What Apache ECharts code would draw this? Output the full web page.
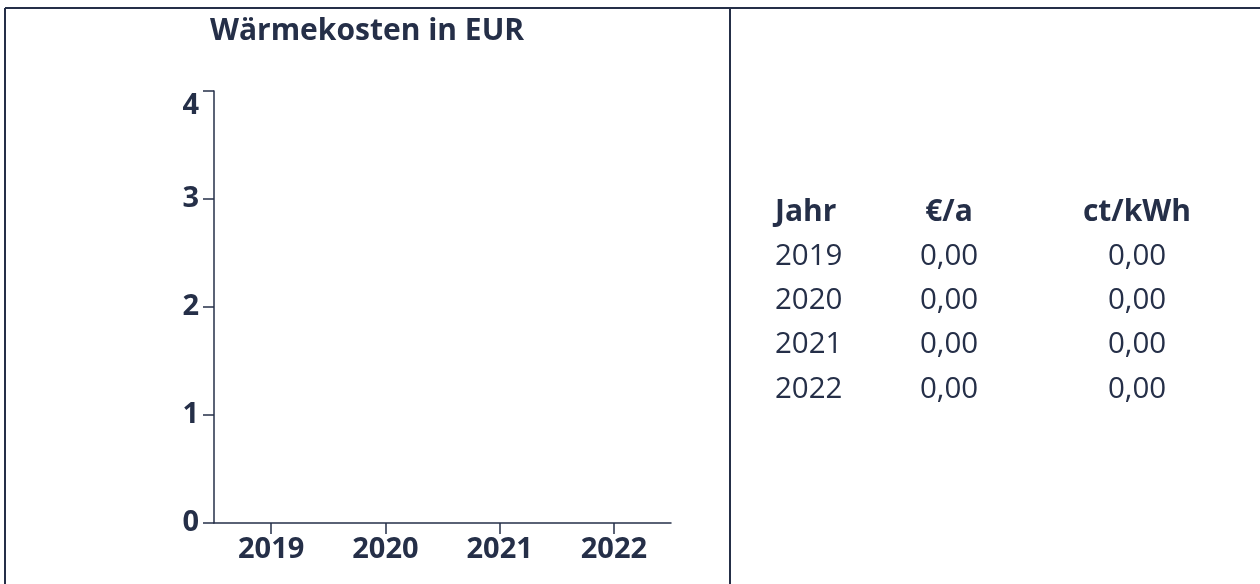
<!DOCTYPE html>
<html>
<head>
<meta charset="utf-8">
<script src="https://cdn.jsdelivr.net/npm/echarts@6/dist/echarts.min.js"></script>
<style>
  html, body { margin: 0; padding: 0; background: #ffffff; }
  #chart { width: 1260px; height: 584px; }
</style>
</head>
<body>
<div id="chart"></div>
<script>
// Heating costs per year (EUR) and specific costs (ct/kWh)
const years = ['2019', '2020', '2021', '2022'];
const costPerYear = [0, 0, 0, 0];
const costPerKwh = [0, 0, 0, 0];
const tableHeader = ['Jahr', '€/a', 'ct/kWh'];
const chartTitle = 'Wärmekosten in EUR';

const ink = '#252f48';
const font = '"Open Sans", "Noto Sans", sans-serif';
const fmt = v => v.toFixed(2).replace('.', ',');

const chart = echarts.init(document.getElementById('chart'), null, { renderer: 'canvas' });

// table on the right-hand panel
const colX = [775, 949, 1137];
const colAlign = ['left', 'center', 'center'];
const rowY0 = 212, rowStep = 44.3;
const tableEls = [];
tableHeader.forEach((h, c) => {
  tableEls.push({
    type: 'text', x: colX[c], y: rowY0,
    style: { text: h, fill: ink, font: 'bold 30px ' + font, align: colAlign[c], verticalAlign: 'middle' }
  });
});
years.forEach((yr, r) => {
  const cells = [yr, fmt(costPerYear[r]), fmt(costPerKwh[r])];
  cells.forEach((t, c) => {
    tableEls.push({
      type: 'text', x: colX[c], y: rowY0 + (r + 1) * rowStep,
      style: { text: t, fill: ink, font: '29.5px ' + font, align: colAlign[c], verticalAlign: 'middle' }
    });
  });
});

chart.setOption({
  animation: false,
  backgroundColor: '#ffffff',
  grid: { left: 214, right: 589, top: 91, bottom: 61, containLabel: false },
  xAxis: {
    type: 'category',
    data: years,
    boundaryGap: true,
    axisLine: { show: true, lineStyle: { color: ink, width: 1.5 } },
    axisTick: { show: true, alignWithLabel: true, length: 11, lineStyle: { color: ink, width: 1.5 } },
    axisLabel: { color: ink, fontFamily: font, fontWeight: 'bold', fontSize: 29, margin: 12 }
  },
  yAxis: {
    type: 'value',
    min: 0, max: 4, interval: 1,
    splitLine: { show: false },
    axisLine: { show: true, lineStyle: { color: ink, width: 1.5 } },
    axisTick: { show: true, length: 11, lineStyle: { color: ink, width: 1.5 } },
    axisLabel: { color: ink, fontFamily: font, fontWeight: 'bold', fontSize: 29, margin: 15, verticalAlignMaxLabel: 'top' }
  },
  series: [{
    type: 'bar',
    name: '€/a',
    data: costPerYear,
    itemStyle: { color: ink }
  }],
  graphic: [
    // outer frame (top and left edges) and panel divider
    { type: 'line', shape: { x1: 5, y1: 8, x2: 1260, y2: 8 }, style: { stroke: ink, lineWidth: 2 } },
    { type: 'line', shape: { x1: 5, y1: 8, x2: 5, y2: 584 }, style: { stroke: ink, lineWidth: 2 } },
    { type: 'line', shape: { x1: 730, y1: 8, x2: 730, y2: 584 }, style: { stroke: ink, lineWidth: 2 } },
    {
      type: 'text', x: 367, y: 31,
      style: { text: chartTitle, fill: ink, font: 'bold 30px ' + font, align: 'center', verticalAlign: 'middle' }
    }
  ].concat(tableEls)
});
</script>
</body>
</html>
